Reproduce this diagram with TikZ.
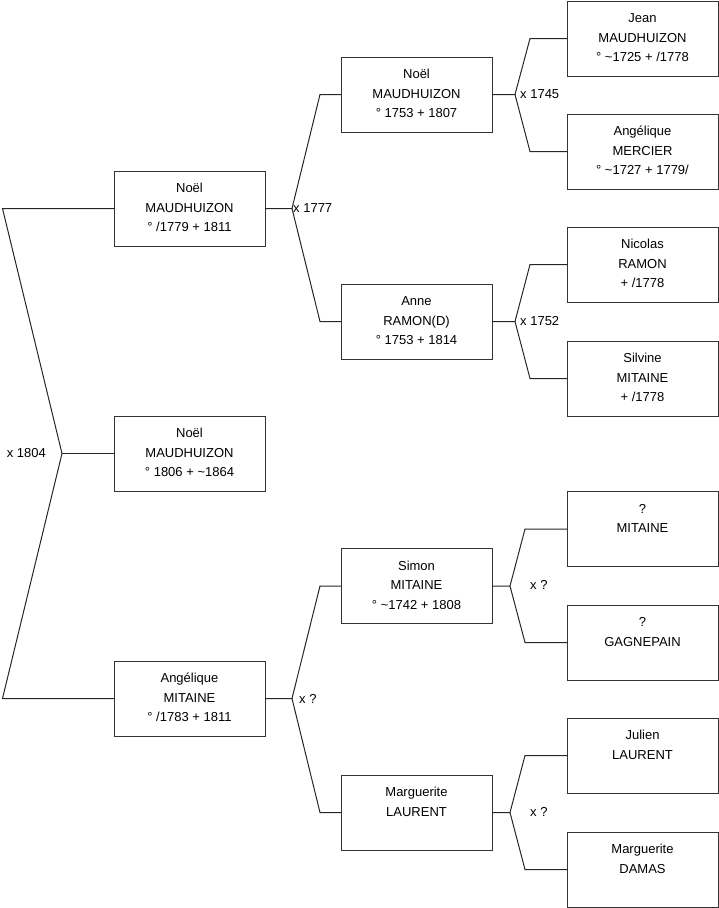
\documentclass[tikz,border=0pt]{standalone}
\usepackage{fontspec}
\setmainfont{Liberation Sans}
\newcommand{\who}[3]{\strut #1\\\strut #2\\\strut #3}

\begin{document}
\begin{tikzpicture}[x=1pt, y=-1pt,
  person/.style={draw=black!80, line width=1pt, minimum width=151pt, minimum height=75pt, inner sep=0pt, outer sep=0pt, align=center, font=\fontsize{13}{19.5}\selectfont},
  link/.style={draw=black!85, line width=1pt},
  wed/.style={inner sep=1pt, font=\fontsize{13}{15}\selectfont}]
\useasboundingbox (0,0) rectangle (719,908);
\node[person] (f) at (189.5,208.5) {\who{Noël}{MAUDHUIZON}{° /1779 + 1811}};
\node[person] (s) at (189.5,453.5) {\who{Noël}{MAUDHUIZON}{° 1806 + \textasciitilde1864}};
\node[person] (m) at (189.5,698.5) {\who{Angélique}{MITAINE}{° /1783 + 1811}};
\node[person] (ff) at (416.5,94.5) {\who{Noël}{MAUDHUIZON}{° 1753 + 1807}};
\node[person] (fm) at (416.5,321.5) {\who{Anne}{RAMON(D)}{° 1753 + 1814}};
\node[person] (mf) at (416.5,586) {\who{Simon}{MITAINE}{° \textasciitilde1742 + 1808}};
\node[person] (mm) at (416.5,812.5) {\who{Marguerite}{LAURENT}{}};
\node[person] (fff) at (642.5,38.5) {\who{Jean}{MAUDHUIZON}{° \textasciitilde1725 + /1778}};
\node[person] (ffm) at (642.5,151.5) {\who{Angélique}{MERCIER}{° \textasciitilde1727 + 1779/}};
\node[person] (fmf) at (642.5,264.5) {\who{Nicolas}{RAMON}{+ /1778}};
\node[person] (fmm) at (642.5,378.5) {\who{Silvine}{MITAINE}{+ /1778}};
\node[person] (mff) at (642.5,529) {\who{?}{MITAINE}{}};
\node[person] (mfm) at (642.5,642.5) {\who{?}{GAGNEPAIN}{}};
\node[person] (mmf) at (642.5,755.5) {\who{Julien}{LAURENT}{}};
\node[person] (mmm) at (642.5,869.5) {\who{Marguerite}{DAMAS}{}};
\coordinate (c0) at (2.5,0);
\coordinate (c1) at (320,0);
\coordinate (c2) at (530,0);
\coordinate (c3) at (525,0);
\coordinate (hr) at (62,453.5);
\coordinate (hf) at (292,208.5);
\coordinate (hm) at (292,698.5);
\coordinate (hff) at (515,94.5);
\coordinate (hfm) at (515,321.5);
\coordinate (hmf) at (510,586);
\coordinate (hmm) at (510,812.5);
\draw[link] (f.west) -- (c0 |- f.west) -- (hr) -- (c0 |- m.west) -- (m.west);
\draw[link] (hr) -- (s.west);
\draw[link] (f.east) -- (hf) -- (c1 |- ff.west) -- (ff.west);
\draw[link] (hf) -- (c1 |- fm.west) -- (fm.west);
\draw[link] (m.east) -- (hm) -- (c1 |- mf.west) -- (mf.west);
\draw[link] (hm) -- (c1 |- mm.west) -- (mm.west);
\draw[link] (ff.east) -- (hff) -- (c2 |- fff.west) -- (fff.west);
\draw[link] (hff) -- (c2 |- ffm.west) -- (ffm.west);
\draw[link] (fm.east) -- (hfm) -- (c2 |- fmf.west) -- (fmf.west);
\draw[link] (hfm) -- (c2 |- fmm.west) -- (fmm.west);
\draw[link] (mf.east) -- (hmf) -- (c3 |- mff.west) -- (mff.west);
\draw[link] (hmf) -- (c3 |- mfm.west) -- (mfm.west);
\draw[link] (mm.east) -- (hmm) -- (c3 |- mmf.west) -- (mmf.west);
\draw[link] (hmm) -- (c3 |- mmm.west) -- (mmm.west);
\node[wed, anchor=east] (wr) at (47,453.5) {x 1804};
\node[wed, anchor=west] (wf) at (hf) {x 1777};
\node[wed, anchor=west] (wm) at (298,698.5) {x ?};
\node[wed, anchor=west] (wff) at ([xshift=4pt]hff) {x 1745};
\node[wed, anchor=west] (wfm) at ([xshift=4pt]hfm) {x 1752};
\node[wed, anchor=west] (wmf) at (529,585) {x ?};
\node[wed, anchor=west] (wmm) at (529,811.5) {x ?};
\end{tikzpicture}
\end{document}
